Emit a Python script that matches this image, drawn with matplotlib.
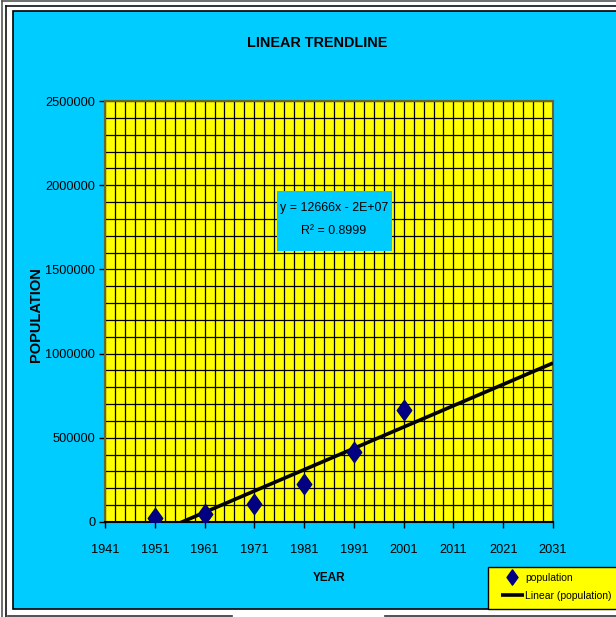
import numpy as np
import matplotlib
matplotlib.use("Agg")
import matplotlib.pyplot as plt
from matplotlib.patches import Rectangle
from matplotlib.lines import Line2D
from matplotlib.path import Path

# census years and population counts
years = [1951, 1961, 1971, 1981, 1991, 2001]
population = [22000, 46000, 109250, 228250, 415000, 663400]
x_ticks = [1941, 1951, 1961, 1971, 1981, 1991, 2001, 2011, 2021, 2031]
y_ticks = [0, 500000, 1000000, 1500000, 2000000, 2500000]

plt.rcParams["font.family"] = ["Liberation Sans", "DejaVu Sans"]

W, H = 616, 617
fig = plt.figure(figsize=(W / 100, H / 100), dpi=100, facecolor="white")


def fx(px):
    return px / W


def fy(py):
    return 1 - py / H


# outer frame lines
frame = [((2, 2), (1, 617), "#555555"), ((6, 6), (6, 617), "#111111"),
         ((2, 616), (1, 1), "#555555"), ((6, 616), (6, 6), "#111111"),
         ((8, 232), (616, 616), "#333333"), ((385, 616), (616, 616), "#333333")]
for (xa, xb), (ya, yb), c in frame:
    fig.add_artist(Line2D([fx(xa), fx(xb)], [fy(ya), fy(yb)], color=c, lw=1.2,
                          transform=fig.transFigure, zorder=-5))

# chart panel
fig.add_artist(Rectangle((fx(13), fy(609)), fx(620) - fx(13), fy(11) - fy(609),
                         transform=fig.transFigure, facecolor="#00CCFF",
                         edgecolor="black", lw=1.2, zorder=-4))

ax = fig.add_axes([fx(105), fy(522), fx(553) - fx(105), fy(101) - fy(522)])
ax.set_facecolor("#FFFF00")
ax.set_xlim(1941, 2031)
ax.set_ylim(0, 2500000)
ax.set_xticks(x_ticks)
ax.set_yticks(y_ticks)
ax.set_xticklabels([str(v) for v in x_ticks])
ax.set_yticklabels([str(v) for v in y_ticks])
ax.set_xticks(np.arange(1943, 2031, 2), minor=True)
ax.set_yticks(np.arange(100000, 2500000, 100000), minor=True)
ax.tick_params(which="minor", length=0)
ax.tick_params(which="major", length=4, width=1, colors="black", labelsize=9.2,
               direction="out")
ax.tick_params(axis="x", pad=12)
ax.tick_params(axis="y", pad=3)
ax.grid(True, which="both", color="black", lw=0.9)
ax.set_axisbelow(True)
for s in ax.spines.values():
    s.set_color("#666633")
    s.set_linewidth(1.5)
ax.spines["bottom"].set_color("black")

# trendline fitted to the data
m, b = np.polyfit(years, population, 1)
fit = np.polyval([m, b], years)
r2 = 1 - np.sum((np.array(population) - fit) ** 2) / np.sum(
    (np.array(population) - np.mean(population)) ** 2)
xs = np.array([1941, 2031])
ax.plot(xs, m * xs + b, color="black", lw=2.6, label="Linear (population)",
        solid_capstyle="butt", zorder=3)

diamond = Path([(0, 1), (0.72, 0), (0, -1), (-0.72, 0), (0, 1)],
               [Path.MOVETO, Path.LINETO, Path.LINETO, Path.LINETO, Path.CLOSEPOLY])
ax.plot(years, population, linestyle="none", marker=diamond, markersize=14.5,
        color="#000080", label="population", zorder=4)

# equation box
fig.add_artist(Rectangle((fx(277), fy(251)), fx(392) - fx(277), fy(191) - fy(251),
                         transform=fig.transFigure, facecolor="#00CCFF",
                         edgecolor="none", zorder=5))
sign = "-" if b < 0 else "+"
fig.text(fx(334), fy(208), f"y = {m:.0f}x {sign} {abs(b):.0E}", ha="center",
         va="center", fontsize=8.9, zorder=6)
fig.text(fx(334), fy(231), f"R\u00b2 = {r2:.4f}", ha="center", va="center",
         fontsize=8.9, zorder=6)

fig.text(fx(317), fy(43), "LINEAR TRENDLINE", ha="center", va="center",
         fontsize=10.4, fontweight="bold")
fig.text(fx(329), fy(578), "YEAR", ha="center", va="center",
         fontsize=8.5, fontweight="bold")
fig.text(fx(36), fy(315), "POPULATION", ha="center", va="center",
         rotation=90, fontsize=10.5, fontweight="bold")

# legend panel
fig.add_artist(Rectangle((fx(488), fy(609)), fx(620) - fx(488), fy(567) - fy(609),
                         transform=fig.transFigure, facecolor="#FFFF00",
                         edgecolor="black", lw=1.0, zorder=5))
handles, labels = ax.get_legend_handles_labels()
leg = fig.legend(handles[::-1], labels[::-1], loc="upper left",
                 bbox_to_anchor=(fx(501), fy(573)), bbox_transform=fig.transFigure,
                 frameon=False, fontsize=7.5, handlelength=2.2, handletextpad=0.15,
                 borderpad=0, labelspacing=0.75, borderaxespad=0)
leg.set_zorder(6)
leg.legend_handles[0].set_markersize(11)

fig.savefig("out.png", dpi=100, facecolor="white")
